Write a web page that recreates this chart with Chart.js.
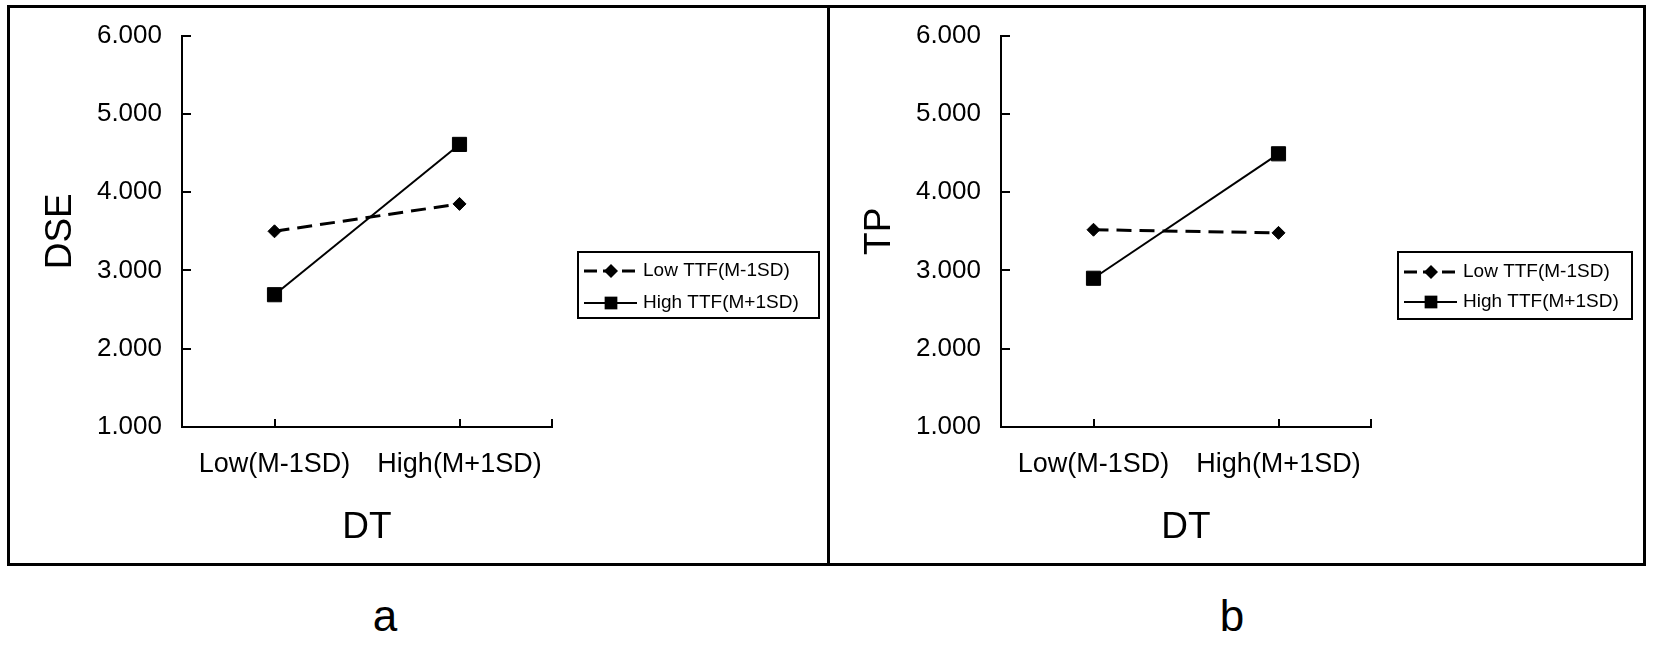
<!DOCTYPE html>
<html>
<head>
<meta charset="utf-8">
<script src="https://cdn.jsdelivr.net/npm/chart.js@4.4.0/dist/chart.umd.min.js"></script>
<style>
html,body{margin:0;padding:0;background:#fff;}
body{width:1654px;height:647px;position:relative;overflow:hidden;font-family:'Liberation Sans',Arial,sans-serif;}
canvas{position:absolute;top:0;}
#cA{left:0;}
#cB{left:828px;}
#frame{position:absolute;left:7px;top:5px;width:1633px;height:555px;border:3px solid #000;pointer-events:none;}
#divider{position:absolute;left:827px;top:5px;width:3px;height:561px;background:#000;pointer-events:none;}
.letter{position:absolute;top:594px;width:100px;text-align:center;font-size:44px;line-height:44px;color:#000;}
</style>
</head>
<body>
<canvas id="cA" width="828" height="560"></canvas>
<canvas id="cB" width="815" height="560"></canvas>
<div id="frame"></div>
<div id="divider"></div>
<div class="letter" id="letA" style="left:335px;"></div>
<div class="letter" id="letB" style="left:1182px;"></div>
<script>
// ---- data ----
const categories = ['Low(M-1SD)', 'High(M+1SD)'];
const seriesNames = ['Low TTF(M-1SD)', 'High TTF(M+1SD)'];
const dseLowTTF = [3.50, 3.85];
const dseHighTTF = [2.69, 4.61];
const tpLowTTF = [3.52, 3.48];
const tpHighTTF = [2.90, 4.49];
const yMin = 1, yMax = 6, yStep = 1;
const xTitle = 'DT';
const yTitles = ['DSE', 'TP'];
const panelLetters = ['a', 'b'];

document.getElementById('letA').textContent = panelLetters[0];
document.getElementById('letB').textContent = panelLetters[1];

Chart.defaults.font.family = "'Liberation Sans', Arial, sans-serif";
Chart.defaults.color = '#000';

const innerTicks = {
  id: 'innerTicks',
  afterDraw(chart) {
    const {ctx, chartArea: ca, scales: {x, y}} = chart;
    ctx.save();
    ctx.strokeStyle = '#000';
    ctx.lineWidth = 2;
    ctx.beginPath();
    y.ticks.forEach(t => {
      const py = Math.round(y.getPixelForValue(t.value));
      ctx.moveTo(ca.left, py); ctx.lineTo(ca.left + 9, py);
    });
    x.ticks.forEach((t, i) => {
      const px = Math.round(x.getPixelForTick(i));
      ctx.moveTo(px, ca.bottom); ctx.lineTo(px, ca.bottom - 8);
    });
    ctx.moveTo(ca.right, ca.bottom); ctx.lineTo(ca.right, ca.bottom - 8);
    ctx.stroke();
    ctx.restore();
  }
};

function drawMarker(ctx, style, cx, cy, r) {
  ctx.beginPath();
  if (style === 'rectRot') {
    ctx.moveTo(cx - r, cy); ctx.lineTo(cx, cy - r); ctx.lineTo(cx + r, cy); ctx.lineTo(cx, cy + r);
  } else {
    const s = r * Math.SQRT1_2;
    ctx.rect(cx - s, cy - s, 2 * s, 2 * s);
  }
  ctx.closePath();
  ctx.fill();
}

const boxLegend = {
  id: 'boxLegend',
  afterDraw(chart, args, opts) {
    const ctx = chart.ctx, ca = chart.chartArea;
    const left = ca.right + opts.gap, top = opts.top, w = opts.width, h = opts.height;
    ctx.save();
    ctx.strokeStyle = '#000';
    ctx.fillStyle = '#000';
    ctx.lineWidth = 2;
    ctx.strokeRect(left, top, w, h);
    chart.data.datasets.forEach((ds, i) => {
      const cy = top + opts.rowY[i];
      ctx.setLineDash(ds.borderDash ? [13, 6] : []);
      ctx.lineWidth = ds.borderWidth;
      ctx.beginPath(); ctx.moveTo(left + 6, cy); ctx.lineTo(left + 59, cy); ctx.stroke();
      ctx.setLineDash([]);
      drawMarker(ctx, ds.pointStyle, left + 33, cy, ds.pointStyle === 'rect' ? 9 : 7);
      ctx.font = "19px 'Liberation Sans', Arial, sans-serif";
      ctx.textBaseline = 'middle';
      ctx.textAlign = 'left';
      ctx.fillText(ds.label, left + 65, cy);
    });
    ctx.restore();
  }
};

function makeChart(id, yTitle, lowData, highData, pad, legendOpts) {
  return new Chart(document.getElementById(id), {
    type: 'line',
    data: {
      labels: categories,
      datasets: [
        {label: seriesNames[0], data: lowData, borderColor: '#000', backgroundColor: '#000',
         borderWidth: 3, borderDash: [15, 8], pointStyle: 'rectRot', pointRadius: 6.5,
         pointBorderWidth: 1, tension: 0, fill: false},
        {label: seriesNames[1], data: highData, borderColor: '#000', backgroundColor: '#000',
         borderWidth: 2, pointStyle: 'rect', pointRadius: 10,
         pointBorderWidth: 1, tension: 0, fill: false}
      ]
    },
    options: {
      responsive: false, animation: false, devicePixelRatio: 1,
      layout: {padding: pad},
      plugins: {legend: {display: false}, tooltip: {enabled: false}, boxLegend: legendOpts},
      scales: {
        x: {
          type: 'category', offset: true,
          grid: {offset: false, drawOnChartArea: false, drawTicks: false},
          border: {color: '#000', width: 2},
          ticks: {color: '#000', font: {size: 27}, padding: 21, maxRotation: 0, autoSkip: false},
          title: {display: true, text: xTitle, color: '#000', font: {size: 37}, padding: {top: 0, bottom: 10}},
          afterFit(s) { s.height = 133; }
        },
        y: {
          min: yMin, max: yMax,
          grid: {drawOnChartArea: false, drawTicks: false},
          border: {color: '#000', width: 2},
          ticks: {stepSize: yStep, color: '#000', font: {size: 26}, padding: 20, callback: v => Number(v).toFixed(3)},
          title: {display: true, text: yTitle, color: '#000', font: {size: 37}, padding: {top: 0, bottom: 0}},
          afterFit(s) { s.width = 143; }
        }
      }
    },
    plugins: [innerTicks, boxLegend]
  });
}

makeChart('cA', yTitles[0], dseLowTTF, dseHighTTF,
  {left: 39, right: 276, top: 35, bottom: 0},
  {gap: 26, top: 252, width: 241, height: 66, rowY: [19, 51]});
makeChart('cB', yTitles[1], tpLowTTF, tpHighTTF,
  {left: 30, right: 272, top: 35, bottom: 0},
  {gap: 27, top: 252, width: 234, height: 67, rowY: [20, 50]});
</script>
</body>
</html>
